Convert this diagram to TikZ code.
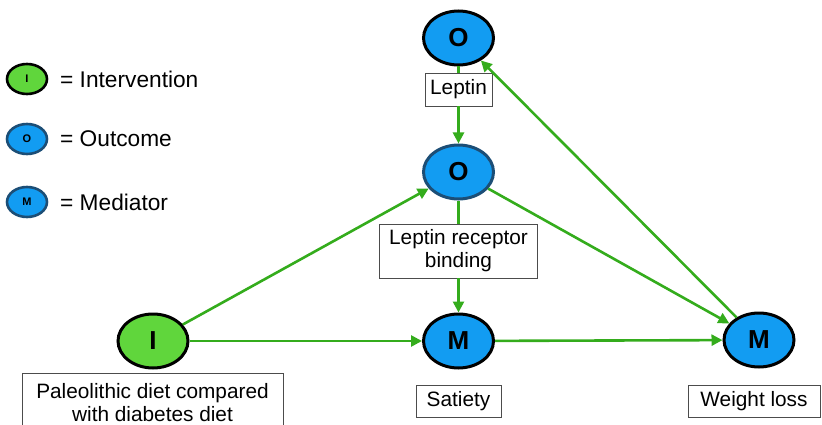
\documentclass[tikz,border=0pt]{standalone}
\usepackage{fontspec}
\setmainfont{Liberation Sans}
\usetikzlibrary{shapes.geometric,arrows.meta}
\definecolor{nodeblue}{RGB}{18,156,242}
\definecolor{nodegreen}{RGB}{96,214,60}
\definecolor{arrowgreen}{RGB}{52,172,28}
\definecolor{darkborder}{RGB}{28,78,118}
\tikzset{
  varnode/.style={ellipse,draw=black,line width=3pt,minimum width=70pt,minimum height=54pt,inner sep=0pt,font=\fontsize{26}{26}\selectfont\bfseries},
  bluenode/.style={varnode,fill=nodeblue},
  greennode/.style={varnode,fill=nodegreen},
  legnode/.style={ellipse,draw=darkborder,line width=2.6pt,minimum width=40pt,minimum height=30pt,inner sep=0pt,font=\fontsize{11}{11}\selectfont\bfseries},
  labelbox/.style={draw=black!70,line width=0.9pt,fill=white,inner sep=0pt,align=center,font=\fontsize{20.8}{23}\selectfont},
  legtext/.style={anchor=west,inner sep=0pt,font=\fontsize{22.7}{22.7}\selectfont},
  link/.style={draw=arrowgreen,line width=2.6pt},
  arr/.style={link,-{Triangle[length=11pt,width=11pt]}}
}
\begin{document}
\begin{tikzpicture}[x=1pt,y=-1pt]
\useasboundingbox (0,0) rectangle (822,425);
% legend
\node[legnode,fill=nodegreen,draw=black] (lgI) at (27,79) {I};
\node[legtext] (lgIt) at (60,79) {= Intervention};
\node[legnode,fill=nodeblue] (lgO) at (27,139) {O};
\node[legtext] (lgOt) at (60,139) {= Outcome};
\node[legnode,fill=nodeblue] (lgM) at (27,202) {M};
\node[legtext] (lgMt) at (60,202) {= Mediator};
% main nodes
\node[bluenode] (O1) at (458.5,38) {O};
\node[bluenode,draw=darkborder] (O2) at (458.5,172) {O};
\node[greennode] (I) at (153,341) {I};
\node[bluenode] (M1) at (458.5,341) {M};
\node[bluenode] (M2) at (759,340) {M};
% connectors
\path[link] (O1) -- (458.5,73);
\path[link] (O2) -- (458.5,224);
\node[labelbox,minimum width=67pt,minimum height=33pt] (lep) at (458.5,89.5) {Leptin};
\node[labelbox,minimum width=158pt,minimum height=54pt] (rec) at (458.5,251) {Leptin receptor\\binding};
\path[arr] (lep) -- (O2);
\path[arr] (rec) -- (M1);
\path[arr] (I) -- (O2);
\path[arr] (I) -- (M1);
\path[arr] (M1) -- (M2);
\path[arr] (O2) -- (M2);
\path[arr] (M2) -- (O1);
% labels
\node[labelbox,minimum width=261pt,minimum height=60pt] (pal) at (152.5,403) {Paleolithic diet compared\\with diabetes diet};
\node[labelbox,minimum width=85pt,minimum height=32pt] (sat) at (458.5,401) {Satiety};
\node[labelbox,minimum width=132pt,minimum height=32pt] (wl) at (754,401) {Weight loss};
\end{tikzpicture}
\end{document}
